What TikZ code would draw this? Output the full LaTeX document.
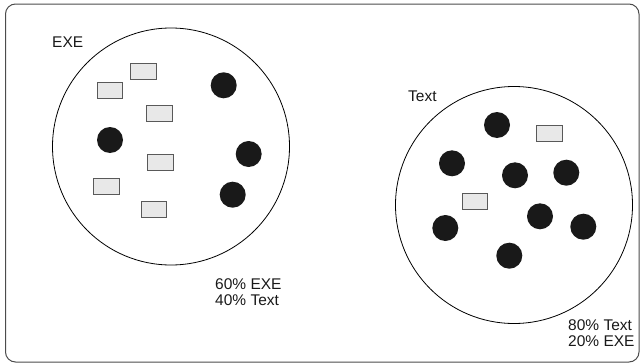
\documentclass[tikz,border=0pt]{standalone}
\usepackage{fontspec}
\setmainfont{Liberation Sans}
\begin{document}
\begin{tikzpicture}[x=1pt,y=-1pt,
  frame/.style={draw=black!70,line width=1pt,rounded corners=10pt},
  set/.style={circle,draw=black,line width=0.8pt,inner sep=0pt,minimum size=237pt},
  exe/.style={rectangle,draw=black!65,fill=black!9,line width=0.9pt,inner sep=0pt,minimum width=25.5pt,minimum height=16pt},
  txt/.style={circle,fill=black!90,inner sep=0pt,minimum size=26pt},
  lbl/.style={font=\fontsize{15.5pt}{16pt}\selectfont,inner sep=0pt,anchor=base west,align=left,text=black!90}]
\useasboundingbox (0,0) rectangle (641,364);
\draw[frame] (5.5,4) rectangle (639,362);
% left set
\node[set] (L) at (171,146.5) {};
\node[lbl] (Llbl) at (52,47.5) {EXE};
\node[exe] (lr1) at (143.5,71) {};
\node[exe] (lr2) at (110,90.5) {};
\node[exe] (lr3) at (159.5,113.5) {};
\node[exe] (lr4) at (160.5,162) {};
\node[exe] (lr5) at (106.5,186) {};
\node[exe] (lr6) at (154,209.5) {};
\node[txt] (ld1) at (223.7,85.3) {};
\node[txt] (ld2) at (110,140) {};
\node[txt] (ld3) at (248.7,154) {};
\node[txt] (ld4) at (232.7,194.7) {};
\node[lbl] (Lpct) at (215,305) {60\% EXE\\40\% Text};
% right set
\node[set] (R) at (514,205) {};
\node[lbl] (Rlbl) at (408,101) {Text};
\node[exe] (rr1) at (549.3,133) {};
\node[exe] (rr2) at (475,201.7) {};
\node[txt] (rd1) at (497,125) {};
\node[txt] (rd2) at (452,163.3) {};
\node[txt] (rd3) at (515,175.3) {};
\node[txt] (rd4) at (566.3,172.7) {};
\node[txt] (rd5) at (540,216.3) {};
\node[txt] (rd6) at (445.3,228) {};
\node[txt] (rd7) at (583.3,226.7) {};
\node[txt] (rd8) at (509.3,255.7) {};
\node[lbl] (Rpct) at (568,346.7) {80\% Text\\20\% EXE};
\end{tikzpicture}
\end{document}
